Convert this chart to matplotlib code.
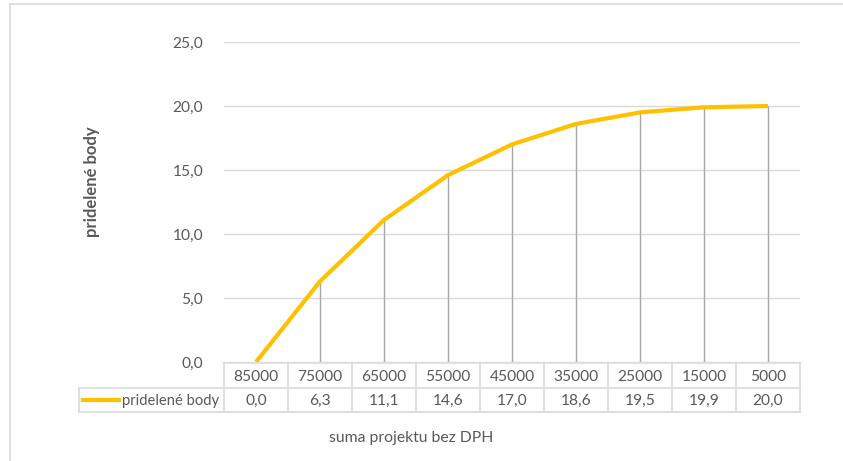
import matplotlib
matplotlib.use("Agg")
import matplotlib.pyplot as plt
from matplotlib.lines import Line2D

categories = ["85000", "75000", "65000", "55000", "45000", "35000", "25000", "15000", "5000"]
values = [0.0, 6.3, 11.1, 14.6, 17.0, 18.6, 19.5, 19.9, 20.0]
series_name = "pridelené body"
yticks = [0, 5, 10, 15, 20, 25]
x_title = "suma projektu bez DPH"
y_title = "pridelené body"

plt.rcParams['font.family'] = ['Lato', 'DejaVu Sans']
W, H = 843, 461
fig = plt.figure(figsize=(W / 100, H / 100), dpi=100)
fig.patch.set_facecolor("white")

def fx(px):
    return px / W

def fy(py):
    return 1 - py / H

text_col = "#595959"
grid_col = "#d9d9d9"
line_col = "#FFC000"
num_fs = 11.2

# outer frame (top and left visible)
fig.add_artist(Line2D([fx(10), fx(10)], [fy(4), fy(461)], color="#d9d9d9", lw=1.2, transform=fig.transFigure))
fig.add_artist(Line2D([fx(10), fx(843)], [fy(4), fy(4)], color="#d9d9d9", lw=1.2, transform=fig.transFigure))

left, right, top, bottom = 224, 800, 42, 362
ax = fig.add_axes([fx(left), fy(bottom), fx(right - left), (bottom - top) / H])
n = len(categories)
x = list(range(n))
ax.set_xlim(-0.5, n - 0.5)
ax.set_ylim(0, 25)
ax.set_yticks(yticks)
ax.set_yticklabels([f"{v:.1f}".replace(".", ",") for v in yticks], color=text_col, fontsize=num_fs)
ax.tick_params(axis="y", length=0, pad=15)
ax.set_xticks([])
for s in ax.spines.values():
    s.set_visible(False)
ax.grid(axis="y", color=grid_col, lw=1)
ax.set_axisbelow(True)

ax.vlines(x, 0, values, color="#a6a6a6", lw=1, zorder=2)
ax.plot(x, values, color=line_col, lw=3, zorder=3, solid_capstyle="butt")

# data table
r0, r1, r2 = 363, 388, 412
cw = (right - left) / n
lc = "#d9d9d9"
def hline(x0, x1, y):
    fig.add_artist(Line2D([fx(x0), fx(x1)], [fy(y), fy(y)], color=lc, lw=1.2, transform=fig.transFigure))
def vline(xx, y0, y1):
    fig.add_artist(Line2D([fx(xx), fx(xx)], [fy(y0), fy(y1)], color=lc, lw=1.2, transform=fig.transFigure))

legend_left = 79
hline(left, right, r0)
hline(legend_left, right, r1)
hline(legend_left, right, r2)
vline(legend_left, r1, r2)
for k in range(n + 1):
    vline(left + k * cw, r0, r2)

for i, (c, v) in enumerate(zip(categories, values)):
    cx = left + (i + 0.5) * cw
    fig.text(fx(cx), fy((r0 + r1) / 2 + 1), c, ha="center", va="center", color=text_col, fontsize=num_fs)
    fig.text(fx(cx), fy((r1 + r2) / 2 + 1), f"{v:.1f}".replace(".", ","), ha="center", va="center", color=text_col, fontsize=num_fs)

fig.add_artist(Line2D([fx(83), fx(119)], [fy(400), fy(400)], color=line_col, lw=3, transform=fig.transFigure))
fig.text(fx(122), fy(401), series_name, ha="left", va="center", color=text_col, fontsize=10.6)

fig.text(fx(411), fy(438), x_title, ha="center", va="center", color=text_col, fontsize=11.3)
fig.text(fx(92), fy(182), y_title, ha="center", va="center", rotation=90, color=text_col, fontsize=12, fontweight="bold")

fig.savefig("out.png", dpi=100, facecolor="white")
